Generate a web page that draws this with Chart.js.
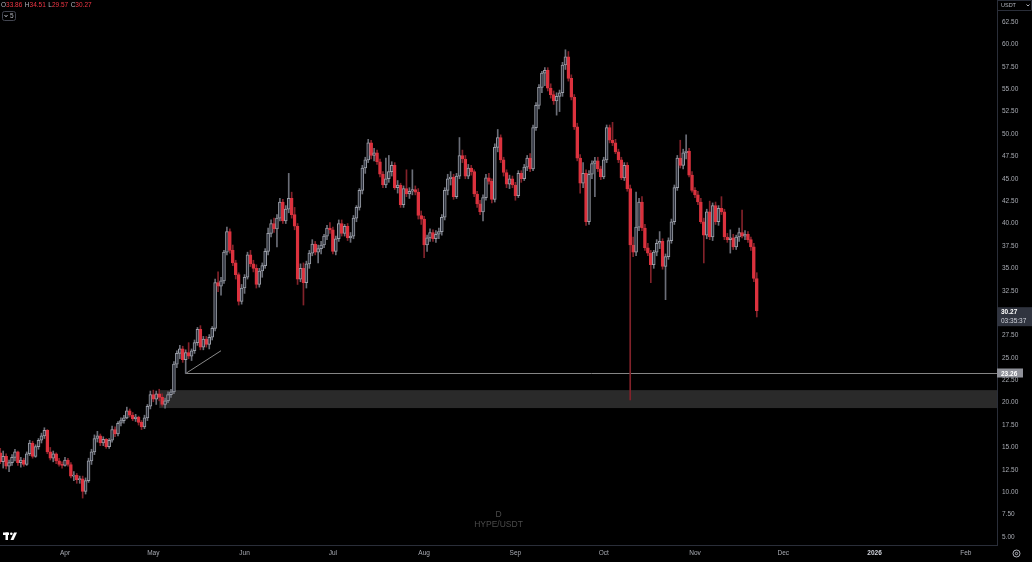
<!DOCTYPE html>
<html><head><meta charset="utf-8">
<script src="https://cdn.jsdelivr.net/npm/chart.js@4.4.0/dist/chart.umd.min.js"></script>
<style>html,body{margin:0;padding:0;background:#000;overflow:hidden}canvas{display:block}</style>
</head><body>
<canvas id="c" width="1032" height="562"></canvas>
<script>
// ---------- DATA (HYPE/USDT daily) ----------
const startDate = '2025-03-10';
const opens = [
14.4,13.4,14.0,12.9,13.3,13.9,14.5,13.3,13.6,13.1,
14.3,15.5,14.0,15.1,15.8,16.3,16.9,14.5,13.8,14.3,
13.5,13.1,13.0,13.6,13.1,11.8,11.9,11.4,11.5,10.1,
11.3,13.5,14.5,16.0,16.3,15.5,15.9,15.1,15.8,17.0,
16.5,17.7,18.0,18.3,19.1,18.6,18.2,18.4,17.8,17.3,
18.3,19.6,20.9,20.4,21.0,20.6,19.8,20.2,20.9,21.2,
24.3,25.5,26.0,24.8,25.6,25.2,25.8,26.7,28.2,26.2,
27.1,26.5,27.3,28.3,33.4,33.0,33.6,36.8,39.1,37.0,
35.6,34.3,31.3,32.8,34.0,36.5,35.5,35.0,33.2,34.7,
35.3,36.9,38.9,40.0,39.4,40.6,42.4,40.3,41.6,42.8,
41.0,39.7,33.8,35.0,33.4,35.5,36.7,37.7,36.8,37.2,
37.6,38.6,39.5,39.3,36.9,38.3,40.0,38.9,39.7,38.4,
38.6,40.6,41.8,43.7,46.2,47.1,49.0,47.6,47.9,46.9,
45.5,44.3,45.0,45.8,46.5,44.0,44.3,42.1,43.9,43.3,
43.6,43.8,43.5,40.9,40.5,37.6,38.4,39.0,38.3,38.8,
39.1,40.7,43.7,45.0,45.2,43.0,45.3,47.6,47.2,45.3,
46.2,45.8,43.3,42.2,41.3,42.9,45.1,44.7,42.7,48.5,
49.6,47.1,45.7,44.4,45.0,44.3,43.1,45.6,45.0,46.3,
47.3,46.1,50.7,53.2,55.2,56.8,57.1,55.1,54.4,53.7,
54.2,54.6,57.7,58.6,56.2,54.1,50.8,47.3,44.5,45.6,
40.2,45.5,46.7,47.0,46.1,45.2,47.1,50.7,49.3,49.0,
48.0,47.1,45.1,46.5,43.9,37.6,36.8,39.6,42.4,39.5,
37.3,36.7,35.4,36.8,37.8,38.0,35.2,36.3,38.1,40.2,
44.0,47.3,46.5,47.9,48.1,45.4,43.7,43.2,42.4,40.2,
38.7,41.3,38.5,42.0,40.2,41.7,41.3,38.5,38.2,38.4,
37.4,38.5,39.0,38.6,38.8,38.2,37.4,33.86];
const highs = [
14.9,14.6,14.3,13.6,14.2,14.8,14.6,13.9,13.8,14.5,
15.8,15.7,15.3,16.0,16.6,17.2,17.0,15.0,14.6,14.4,
13.8,13.4,13.9,13.8,13.3,12.3,12.1,11.8,11.8,11.6,
13.8,14.8,16.4,16.8,16.5,16.2,16.0,16.0,17.4,17.3,
17.9,18.3,18.6,19.5,19.3,18.9,18.7,18.5,18.0,18.6,
19.8,21.3,21.4,21.3,21.5,21.0,20.5,21.2,21.5,24.6,
25.8,26.4,26.3,25.9,26.7,26.0,27.0,28.4,28.6,27.4,
27.4,27.6,28.5,33.8,34.6,34.0,37.0,39.6,39.4,37.6,
35.9,34.5,33.2,34.3,36.8,37.0,35.9,35.4,35.0,35.6,
37.2,39.5,40.4,40.6,41.0,42.8,42.7,42.0,45.6,43.5,
41.8,40.0,35.5,35.6,35.8,37.0,38.2,38.0,37.6,38.0,
38.8,39.8,40.1,39.6,38.6,40.4,40.4,39.9,40.0,39.0,
40.9,42.0,43.9,46.5,47.4,49.4,49.3,48.4,48.2,47.2,
45.8,47.3,47.6,46.9,46.8,44.8,44.5,44.2,46.0,44.0,
46.0,44.2,43.9,41.4,40.8,38.7,39.4,39.3,39.2,39.5,
41.0,44.0,45.5,45.8,45.5,45.6,49.6,48.2,47.6,46.6,
46.5,46.0,43.6,42.6,43.2,45.5,45.6,45.0,48.9,50.5,
49.9,47.4,46.0,45.4,45.3,44.6,45.9,45.9,46.6,47.6,
47.8,51.0,53.5,55.5,57.0,57.4,57.4,55.6,54.8,54.6,
54.9,58.0,59.4,59.2,56.6,54.4,51.2,47.7,46.8,46.0,
45.9,47.0,47.4,47.4,46.4,47.4,51.0,51.0,51.3,49.4,
48.3,47.4,46.8,46.8,44.3,38.5,43.5,42.8,43.0,39.9,
37.8,37.0,37.0,38.2,39.1,38.3,36.6,38.4,40.5,44.3,
47.6,49.3,48.3,49.9,48.4,45.8,44.0,43.6,42.8,40.6,
41.6,42.5,42.3,42.4,42.0,43.0,41.6,38.9,39.3,38.8,
38.7,39.5,41.5,39.2,39.1,38.5,37.8,34.51];
const lows = [
13.2,12.7,12.6,12.3,13.0,13.5,13.0,12.8,12.9,13.0,
14.1,13.8,13.9,14.8,15.5,16.0,14.3,13.6,13.4,13.2,
12.9,12.7,12.9,12.9,11.6,11.3,11.0,11.0,9.35,9.8,
11.1,13.1,14.2,15.6,15.2,15.2,14.9,14.9,15.6,16.2,
16.3,17.4,17.7,18.2,18.4,18.0,17.9,17.5,17.0,17.1,
18.0,19.3,20.1,19.8,20.2,19.6,19.4,20.0,20.6,21.0,
23.9,24.9,24.5,23.26,24.9,24.7,25.5,26.4,25.9,25.9,
26.2,26.0,27.0,28.0,32.4,32.0,33.3,36.5,36.7,35.3,
33.8,30.9,31.0,32.2,33.8,35.2,34.6,32.8,32.9,34.0,
35.0,36.5,38.5,39.0,37.4,40.3,40.0,40.0,41.2,40.6,
39.3,33.2,33.5,30.9,32.8,35.0,36.4,36.5,35.6,36.6,
37.3,38.2,38.9,36.6,36.5,38.0,38.6,38.6,38.1,37.9,
38.3,40.2,41.5,43.3,45.6,46.8,47.2,47.0,46.6,45.2,
44.0,44.0,44.6,45.3,43.8,43.4,41.8,41.8,43.0,42.8,
43.2,43.2,40.5,39.9,36.2,36.9,38.0,38.0,37.9,38.3,
38.7,40.4,43.2,44.3,42.7,42.8,45.0,46.8,45.0,45.0,
45.4,43.0,41.8,41.0,40.3,42.6,44.4,42.3,42.4,48.0,
46.8,45.3,44.0,43.9,44.0,42.6,42.9,44.6,44.8,45.9,
45.8,45.9,50.4,52.8,54.6,55.4,54.8,54.0,53.3,52.1,
52.5,54.2,57.2,55.9,53.8,50.5,47.0,43.4,44.0,39.8,
39.9,45.0,43.0,45.8,44.9,45.0,46.8,49.0,48.7,47.8,
46.8,44.9,44.8,43.6,20.3,36.3,36.4,39.2,39.2,37.0,
36.4,33.4,35.0,36.4,37.2,34.9,31.5,36.0,37.8,39.9,
43.7,46.2,46.1,47.2,45.2,43.5,42.9,42.1,40.0,35.6,
38.3,38.2,38.1,39.9,39.8,41.0,38.2,37.9,36.7,37.1,
37.1,38.0,38.4,38.2,37.9,37.0,33.5,29.57];
const closes = [
13.4,14.0,12.9,13.3,13.9,14.5,13.3,13.6,13.1,14.3,
15.5,14.0,15.1,15.8,16.3,16.9,14.5,13.8,14.3,13.5,
13.1,13.0,13.6,13.1,11.8,11.9,11.4,11.5,10.1,11.3,
13.5,14.5,16.0,16.3,15.5,15.9,15.1,15.8,17.0,16.5,
17.7,18.0,18.3,19.1,18.6,18.2,18.4,17.8,17.3,18.3,
19.6,20.9,20.4,21.0,20.6,19.8,20.2,20.9,21.2,24.3,
25.5,26.0,24.8,25.6,25.2,25.8,26.7,28.2,26.2,27.1,
26.5,27.3,28.3,33.4,33.0,33.6,36.8,39.1,37.0,35.6,
34.3,31.3,32.8,34.0,36.5,35.5,35.0,33.2,34.7,35.3,
36.9,38.9,40.0,39.4,40.6,42.4,40.3,41.6,42.8,41.0,
39.7,33.8,35.0,33.4,35.5,36.7,37.7,36.8,37.2,37.6,
38.6,39.5,39.3,36.9,38.3,40.0,38.9,39.7,38.4,38.6,
40.6,41.8,43.7,46.2,47.1,49.0,47.6,47.9,46.9,45.5,
44.3,45.0,45.8,46.5,44.0,44.3,42.1,43.9,43.3,43.6,
43.8,43.5,40.9,40.5,37.6,38.4,39.0,38.3,38.8,39.1,
40.7,43.7,45.0,45.2,43.0,45.3,47.6,47.2,45.3,46.2,
45.8,43.3,42.2,41.3,42.9,45.1,44.7,42.7,48.5,49.6,
47.1,45.7,44.4,45.0,44.3,43.1,45.6,45.0,46.3,47.3,
46.1,50.7,53.2,55.2,56.8,57.1,55.1,54.4,53.7,54.2,
54.6,57.7,58.6,56.2,54.1,50.8,47.3,44.5,45.6,40.2,
45.5,46.7,47.0,46.1,45.2,47.1,50.7,49.3,49.0,48.0,
47.1,45.1,46.5,43.9,37.6,36.8,39.6,42.4,39.5,37.3,
36.7,35.4,36.8,37.8,38.0,35.2,36.3,38.1,40.2,44.0,
47.3,46.5,47.9,48.1,45.4,43.7,43.2,42.4,40.2,38.7,
41.3,38.5,42.0,40.2,41.7,41.3,38.5,38.2,38.4,37.4,
38.5,39.0,38.6,38.8,38.2,37.4,33.86,30.27];

const monthTickDates  = ['2025-04-01','2025-05-01','2025-06-01','2025-07-01','2025-08-01','2025-09-01','2025-10-01','2025-11-01','2025-12-01','2026-01-01','2026-02-01'];
const monthTickLabels = ['Apr','May','Jun','Jul','Aug','Sep','Oct','Nov','Dec','2026','Feb'];
const priceTicks = [5,7.5,10,12.5,15,17.5,20,22.5,25,27.5,30,32.5,35,37.5,40,42.5,45,47.5,50,52.5,55,57.5,60,62.5];

const symbolTitle = 'HYPE/USDT';
const intervalTitle = 'D';
const quoteCurrency = 'USDT';
const legendLetters = ['O','H','L','C'];
const lastOHLC = [33.86, 34.51, 29.57, 30.27];
const lastPrice = 30.27;
const countdownText = '03:35:37';
const levelPrice = 23.26;
const levelStartDate = '2025-05-12';
const trendStart = ['2025-05-12', 23.26];
const trendEnd = ['2025-05-24', 25.8];
const zoneLow = 19.4, zoneHigh = 21.4, zoneStartDate = '2025-05-03';

// ---------- helpers ----------
const DAY = 86400000, EPOCH = Date.UTC(2025, 3, 1);
function dayIndex(s){ const p = s.split('-').map(Number); return Math.round((Date.UTC(p[0], p[1]-1, p[2]) - EPOCH) / DAY); }
const firstDay = dayIndex(startDate);
const xs = opens.map((_, i) => firstDay + i);
const monthTickDays = monthTickDates.map(dayIndex);
const isUp = opens.map((o, i) => closes[i] >= o);

const UP_BODY = '#2b2f3a', UP_BORDER = '#9a9ea7', UP_WICK = '#6b6e78';
const DN_BODY = '#dc323e', DN_WICK = '#82222a';
const FONT = '"Liberation Sans", Arial, sans-serif';

const overlay = {
  id: 'overlay',
  beforeDraw(chart) {
    const {ctx, width, height} = chart;
    ctx.save(); ctx.fillStyle = '#000'; ctx.fillRect(0, 0, width, height); ctx.restore();
  },
  beforeDatasetsDraw(chart) {
    const {ctx, chartArea: a, scales: {x, y}} = chart;
    ctx.save();
    ctx.beginPath(); ctx.rect(a.left, a.top, a.right - a.left, a.bottom - a.top); ctx.clip();
    // watermark
    ctx.fillStyle = '#4b4b4b'; ctx.textAlign = 'center'; ctx.textBaseline = 'middle';
    ctx.font = '8.5px ' + FONT;
    const cx = (a.left + a.right) / 2;
    ctx.fillText(intervalTitle, cx, 515);
    ctx.fillText(symbolTitle, cx, 524.5);
    // zone
    const zx = x.getPixelForValue(dayIndex(zoneStartDate));
    const zt = y.getPixelForValue(zoneHigh), zb = y.getPixelForValue(zoneLow);
    ctx.fillStyle = '#2a2a2a';
    ctx.fillRect(zx, zt, a.right - zx, zb - zt);
    // level line
    const ly = Math.round(y.getPixelForValue(levelPrice)) + 0.5;
    ctx.strokeStyle = '#858585'; ctx.lineWidth = 1;
    ctx.beginPath(); ctx.moveTo(x.getPixelForValue(dayIndex(levelStartDate)), ly); ctx.lineTo(a.right, ly); ctx.stroke();
    // trend line
    ctx.strokeStyle = '#8a8a8a';
    ctx.beginPath();
    ctx.moveTo(x.getPixelForValue(dayIndex(trendStart[0])), y.getPixelForValue(trendStart[1]));
    ctx.lineTo(x.getPixelForValue(dayIndex(trendEnd[0])), y.getPixelForValue(trendEnd[1]));
    ctx.stroke();
    ctx.restore();
  },
  afterDraw(chart) {
    const {ctx, chartArea: a, scales: {y}} = chart;
    ctx.save();
    // legend OHLC
    ctx.font = '6.5px ' + FONT; ctx.textBaseline = 'middle'; ctx.textAlign = 'left';
    let tx = 1;
    legendLetters.forEach((L, i) => {
      ctx.fillStyle = '#b2b5be'; ctx.fillText(L, tx, 5); tx += ctx.measureText(L).width;
      const v = lastOHLC[i].toFixed(2);
      ctx.fillStyle = '#f23645'; ctx.fillText(v, tx, 5); tx += ctx.measureText(v).width + 2.5;
    });
    // collapse box
    ctx.strokeStyle = '#434651'; ctx.lineWidth = 1;
    ctx.beginPath(); ctx.roundRect(2.5, 11.5, 13, 9, 2); ctx.stroke();
    ctx.strokeStyle = '#b2b5be';
    ctx.beginPath(); ctx.moveTo(4.5, 15); ctx.lineTo(6, 16.8); ctx.lineTo(7.5, 15); ctx.stroke();
    ctx.fillStyle = '#b2b5be'; ctx.fillText('5', 10, 16.2);
    // currency box
    ctx.strokeStyle = '#2a2e39';
    ctx.beginPath(); ctx.rect(997.5, 0.5, 34, 10); ctx.stroke();
    ctx.fillStyle = '#b2b5be'; ctx.font = '5.5px ' + FONT;
    ctx.fillText(quoteCurrency, 1001, 5.5);
    ctx.beginPath(); ctx.strokeStyle = '#b2b5be';
    ctx.moveTo(1026.5, 4.5); ctx.lineTo(1028, 6); ctx.lineTo(1029.5, 4.5); ctx.stroke();
    // level label
    const ly = y.getPixelForValue(levelPrice);
    ctx.fillStyle = '#8f9199';
    ctx.fillRect(a.right, Math.round(ly) - 4.5, 26, 9);
    ctx.fillStyle = '#ffffff'; ctx.font = 'bold 6.5px ' + FONT;
    ctx.fillText(levelPrice.toFixed(2), a.right + 4, ly + 0.3);
    // last price label
    const py = y.getPixelForValue(lastPrice);
    ctx.fillStyle = '#30343f';
    ctx.fillRect(a.right, py - 3.5, 35, 19);
    ctx.fillStyle = '#ffffff'; ctx.font = 'bold 6.5px ' + FONT;
    ctx.fillText(lastPrice.toFixed(2), a.right + 4, py + 1.5);
    ctx.fillStyle = '#d1d4dc'; ctx.font = '6.5px ' + FONT;
    ctx.fillText(countdownText, a.right + 4, py + 10.2);
    // settings icon
    ctx.strokeStyle = '#b2b5be'; ctx.lineWidth = 1;
    ctx.beginPath(); ctx.arc(1016.5, 553.5, 3.5, 0, Math.PI * 2); ctx.stroke();
    ctx.beginPath(); ctx.arc(1016.5, 553.5, 1.2, 0, Math.PI * 2); ctx.stroke();
    // TV logo
    ctx.fillStyle = '#ffffff';
    ctx.fillRect(3, 532.5, 6, 2.5);
    ctx.fillRect(5.5, 532.5, 2.5, 7.5);
    ctx.beginPath(); ctx.arc(11.3, 533.8, 1.3, 0, Math.PI * 2); ctx.fill();
    ctx.beginPath(); ctx.moveTo(14, 532.5); ctx.lineTo(17, 532.5); ctx.lineTo(13.5, 540); ctx.lineTo(10.5, 540); ctx.closePath(); ctx.fill();
    ctx.restore();
  }
};

new Chart(document.getElementById('c'), {
  type: 'bar',
  data: {
    datasets: [
      {
        label: 'body', order: 1, grouped: false,
        data: xs.map((d, i) => ({x: d, y: [opens[i], closes[i]]})),
        backgroundColor: isUp.map(u => u ? UP_BODY : DN_BODY),
        borderColor: isUp.map(u => u ? UP_BORDER : DN_BODY),
        borderWidth: 1, borderSkipped: false,
        barPercentage: 1, categoryPercentage: 1, maxBarThickness: 3, minBarLength: 1
      },
      {
        label: 'wick', order: 2, grouped: false,
        data: xs.map((d, i) => ({x: d, y: [lows[i], highs[i]]})),
        backgroundColor: isUp.map(u => u ? UP_WICK : DN_WICK),
        borderWidth: 0,
        barPercentage: 1, categoryPercentage: 1, maxBarThickness: 1, minBarLength: 1
      }
    ]
  },
  options: {
    responsive: false, animation: false, events: [],
    devicePixelRatio: 1,
    layout: {padding: 0},
    plugins: {legend: {display: false}, tooltip: {enabled: false}},
    scales: {
      x: {
        type: 'linear', position: 'bottom', offset: false,
        min: -22.08, max: 316.6,
        grid: {display: false, drawTicks: false},
        border: {display: true, color: '#2a2e39'},
        afterBuildTicks: s => { s.ticks = monthTickDays.map(v => ({value: v})); },
        afterFit: s => { s.height = 17; s.paddingLeft = 0; s.paddingRight = 0; },
        ticks: {
          autoSkip: false, maxRotation: 0, padding: 4.5,
          color: ctx => (ctx.tick && ctx.tick.value === monthTickDays[9]) ? '#d1d4dc' : '#a8abb3',
          font: ctx => ({family: FONT, size: 6.5, weight: (ctx.tick && ctx.tick.value === monthTickDays[9]) ? 'bold' : 'normal'}),
          callback: (v) => { const k = monthTickDays.indexOf(v); return k >= 0 ? monthTickLabels[k] : ''; }
        }
      },
      y: {
        type: 'linear', position: 'right', beginAtZero: false,
        min: 4.11, max: 64.956,
        grid: {display: false, drawTicks: false},
        border: {display: true, color: '#2a2e39'},
        afterBuildTicks: s => { s.ticks = priceTicks.map(v => ({value: v})); },
        afterFit: s => { s.width = 35; s.paddingTop = 0; s.paddingBottom = 0; },
        ticks: {
          padding: 5, color: '#a8abb3',
          font: {family: FONT, size: 6.5},
          callback: v => Number(v).toFixed(2)
        }
      }
    }
  },
  plugins: [overlay]
});
</script>
</body></html>
